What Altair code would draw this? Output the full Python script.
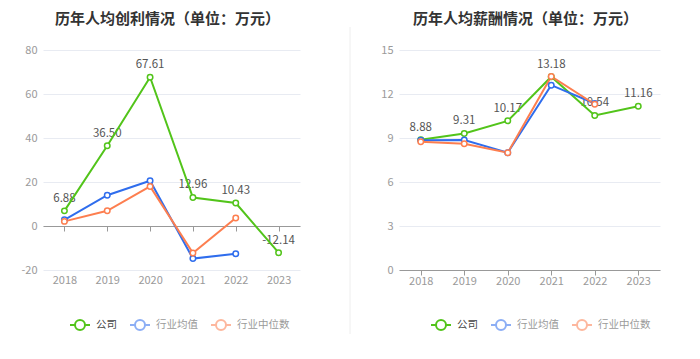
import altair as alt
import pandas as pd

years = ["2018", "2019", "2020", "2021", "2022", "2023"]
series_names = ["公司", "行业均值", "行业中位数"]
series_colors = ["#52c41a", "#2f6ded", "#fd7e4f"]

profit_company = [6.88, 36.50, 67.61, 12.96, 10.43, -12.14]
profit_industry_avg = [2.8, 14.0, 20.6, -14.8, -12.6, None]
profit_industry_median = [2.1, 6.9, 18.0, -12.3, 3.6, None]

salary_company = [8.88, 9.31, 10.17, 13.18, 10.54, 11.16]
salary_industry_avg = [8.85, 8.86, 8.0, 12.6, 11.35, None]
salary_industry_median = [8.75, 8.61, 8.0, 13.2, 11.3, None]

profit_ticks = [-20, 0, 20, 40, 60, 80]
salary_ticks = [0, 3, 6, 9, 12, 15]

FONT = "Noto Sans CJK SC"
SYMBOL = "M-1,0L-0.5,0M0.5,0L1,0M0.5,0A0.5,0.5,0,1,1,-0.5,0A0.5,0.5,0,1,1,0.5,0"


def to_long(lists):
    rows = []
    for name, vals in zip(series_names, lists):
        for y, v in zip(years, vals):
            if v is not None:
                rows.append({"year": y, "series": name, "value": v})
    return pd.DataFrame(rows)


def panel(df, title, ticks, width, zero_offset, label_pad, legend_x, title_offset, divider=False):
    color = alt.Color(
        "series:N",
        sort=series_names,
        scale=alt.Scale(domain=series_names, range=series_colors),
        legend=alt.Legend(
            title=None, orient="none", legendX=legend_x, legendY=264,
            direction="horizontal", symbolType=SYMBOL, symbolSize=400,
            symbolStrokeWidth=2, symbolFillColor="white",
            labelFontSize=10.5, labelFont=FONT, labelOffset=5,
            columnPadding=9, padding=0,
            labelColor=alt.ExprRef("datum.value === '公司' ? '#444444' : '#9a9a9a'"),
            symbolOpacity=alt.ExprRef("datum.value === '公司' ? 1 : 0.55"),
        ),
    )
    x = alt.X(
        "year:O", sort=years, scale=alt.Scale(type="point", padding=0.5),
        axis=alt.Axis(title=None, labelAngle=0, offset=zero_offset,
                      domainColor="#999999", tickColor="#999999", tickSize=5,
                      labelPadding=label_pad, labelColor="#9a9a9a",
                      labelFontSize=11, labelFont=FONT, grid=False),
    )
    y = alt.Y(
        "value:Q", scale=alt.Scale(domain=[ticks[0], ticks[-1]], nice=False, zero=False),
        axis=alt.Axis(title=None, values=ticks, domain=False, ticks=False,
                      labelPadding=6, labelColor="#9a9a9a", labelFontSize=11,
                      labelFont=FONT, gridColor="#e8ebf2"),
    )
    base = alt.Chart(df)
    labels = base.transform_filter(alt.datum.series == "公司").mark_text(
        dy=-12, fontSize=11.5, font=FONT, color="#555555", baseline="middle"
    ).encode(x=x, y=y, text=alt.Text("value:Q", format=".2f"))
    lines = base.mark_line(
        strokeWidth=2,
        point=alt.OverlayMarkDef(filled=False, fill="white", size=30, strokeWidth=1.5),
    ).encode(x=x, y=y, color=color)
    layers = [labels, lines]
    if divider:
        rule = alt.Chart(pd.DataFrame({"d": [0]})).mark_rule(
            color="#eeeeee", strokeWidth=1
        ).encode(x=alt.value(width + 50), y=alt.value(-23), y2=alt.value(284))
        layers.append(rule)
    return alt.layer(*layers).properties(
        width=width, height=220,
        title=alt.TitleParams(title, fontSize=15, fontWeight="bold", color="#333333",
                              font=FONT, anchor="middle", frame="group",
                              offset=title_offset, dx=-4),
    )


left = panel(to_long([profit_company, profit_industry_avg, profit_industry_median]),
             "历年人均创利情况（单位：万元）", profit_ticks, 257, -44, 43, 26, 0, divider=True)
right = panel(to_long([salary_company, salary_industry_avg, salary_industry_median]),
              "历年人均薪酬情况（单位：万元）", salary_ticks, 261, 0, 0, 31, 17)

chart = alt.hconcat(left, right, spacing=29).resolve_scale(
    color="independent"
).resolve_legend(color="independent").properties(
    padding={"left": 12, "top": 3, "right": 5, "bottom": 5}
).configure(font=FONT).configure_view(strokeWidth=0, stroke=None)

chart.save("out.html", embed_options={
    "renderer": "svg", "actions": False,
    "formatLocale": {"decimal": ".", "thousands": ",", "grouping": [3],
                     "currency": ["", ""], "minus": "-"},
})
